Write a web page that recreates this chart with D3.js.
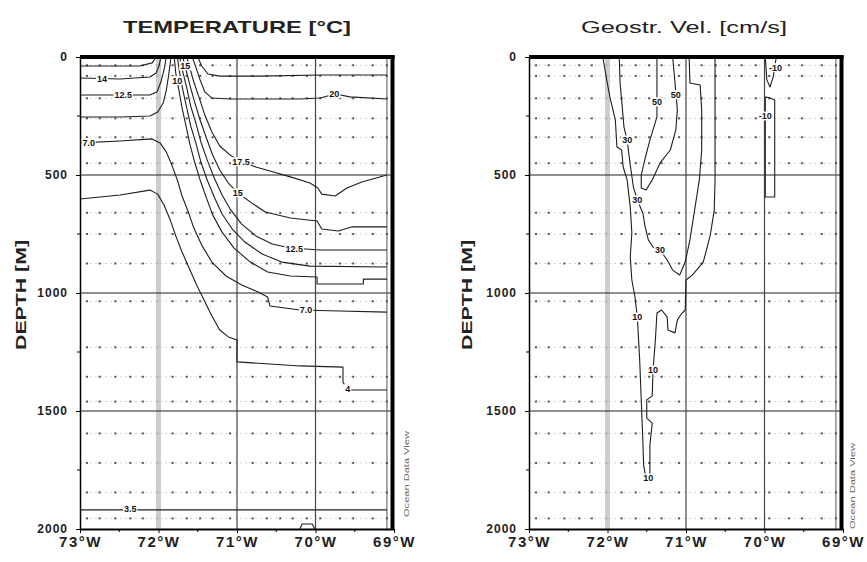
<!DOCTYPE html>
<html><head><meta charset="utf-8">
<script src="https://cdn.jsdelivr.net/npm/d3@7"></script>
<style>
html,body{margin:0;padding:0;background:#fff;}
svg{display:block;font-family:"Liberation Sans",Arial,sans-serif;}
</style></head><body>
<svg id="chart" width="867" height="562"></svg>
<script>
// ---------- axes ----------
const LON_TICKS = [-73, -72, -71, -70, -69];
const LON_MINOR = [-72.5, -71.5, -70.5, -69.5];
const DEPTH_TICKS = [0, 500, 1000, 1500, 2000];
const DEPTH_MINOR = [250, 750, 1250, 1750];
const GRID_DEPTHS = [500, 1000, 1500];
const GRID_LONS = [-71, -70];
const SECTION_LON = -72;
const DATA_EDGE_LON = -69.09;

// ---------- sample positions (stations x bottle depths) ----------
const STATION_LONS = [-72.91, -72.75, -72.55, -72.36, -72.20, -72.01, -71.82, -71.64, -71.47, -71.31,
  -71.09, -70.80, -70.62, -70.45, -70.29, -70.11, -69.94, -69.69, -69.52, -69.27, -69.09];
const SAMPLE_DEPTHS = [35, 80, 175, 260, 340, 450, 660, 750, 875, 1035, 1230, 1355, 1460, 1595, 1720, 1845, 1955];

// ---------- temperature isotherms [lon, depth m] ----------
const T_15_W = [[-73.00, 38], [-72.24, 38], [-72.08, 25], [-72.03, 0]];
const T_14_W = [[-73.00, 89], [-72.49, 93], [-72.11, 85], [-72.03, 68], [-71.99, 34], [-71.97, 0]];
const T_125_W = [[-73.00, 161], [-72.11, 161], [-72.02, 148], [-71.97, 106], [-71.93, 55], [-71.90, 0]];
const T_11_W = [[-73.00, 254], [-72.49, 254], [-72.11, 250], [-72.01, 233], [-71.94, 195], [-71.90, 140], [-71.87, 76], [-71.84, 0]];
const T_7 = [[-73.00, 364], [-72.49, 356], [-72.08, 347], [-71.98, 364], [-71.90, 403], [-71.83, 458], [-71.76, 521],
  [-71.70, 589], [-71.62, 657], [-71.55, 725], [-71.45, 797], [-71.32, 869], [-71.14, 928], [-70.94, 966],
  [-70.73, 996], [-70.61, 1017], [-70.58, 1055], [-70.20, 1072], [-69.69, 1076], [-69.09, 1081]];
const T_4 = [[-73.00, 602], [-72.49, 585], [-72.11, 564], [-72.01, 581], [-71.93, 627], [-71.85, 691], [-71.78, 758],
  [-71.70, 826], [-71.61, 894], [-71.52, 962], [-71.42, 1030], [-71.32, 1097], [-71.22, 1157], [-71.11, 1186],
  [-71.00, 1199], [-71.00, 1292], [-70.58, 1301], [-70.20, 1309], [-69.65, 1314], [-69.65, 1377], [-69.59, 1411], [-69.09, 1411]];
const T_10_E = [[-71.80, 0], [-71.78, 68], [-71.74, 140], [-71.70, 216], [-71.65, 292], [-71.60, 369], [-71.54, 445],
  [-71.47, 521], [-71.39, 597], [-71.31, 669], [-71.19, 742], [-71.04, 809], [-70.83, 869], [-70.61, 911],
  [-70.32, 928], [-69.98, 932], [-69.98, 962], [-69.39, 962], [-69.39, 941], [-69.09, 941]];
const T_11_E = [[-71.76, 0], [-71.73, 68], [-71.69, 140], [-71.64, 216], [-71.59, 292], [-71.52, 369], [-71.46, 445],
  [-71.38, 521], [-71.29, 593], [-71.19, 665], [-71.06, 729], [-70.90, 784], [-70.68, 835], [-70.43, 869],
  [-70.07, 886], [-69.09, 890]];
const T_125_E = [[-71.73, 0], [-71.69, 64], [-71.64, 131], [-71.59, 208], [-71.52, 284], [-71.46, 360], [-71.38, 436],
  [-71.29, 513], [-71.19, 585], [-71.08, 648], [-70.94, 708], [-70.76, 758], [-70.55, 792], [-70.32, 809],
  [-69.94, 818], [-69.09, 818]];
const T_15_E = [[-71.69, 0], [-71.65, 55], [-71.60, 119], [-71.54, 191], [-71.47, 267], [-71.39, 343], [-71.31, 415],
  [-71.22, 479], [-71.11, 534], [-70.99, 576], [-70.81, 619], [-70.64, 657], [-70.32, 682], [-69.98, 695],
  [-69.92, 729], [-69.71, 737], [-69.54, 720], [-69.09, 720]];
const T_175_E = [[-71.64, 0], [-71.60, 47], [-71.55, 106], [-71.48, 174], [-71.41, 246], [-71.32, 318], [-71.22, 377],
  [-71.09, 415], [-70.94, 445], [-70.76, 466], [-70.58, 483], [-70.32, 508], [-70.07, 534], [-69.97, 555],
  [-69.92, 581], [-69.75, 589], [-69.60, 555], [-69.41, 530], [-69.09, 500]];
const T_20_E = [[-71.57, 0], [-71.52, 47], [-71.47, 97], [-71.41, 148], [-71.32, 174], [-71.09, 178], [-70.20, 178],
  [-69.94, 174], [-69.75, 157], [-69.56, 169], [-69.09, 178]];
const T_225_E = [[-71.50, 0], [-71.45, 38], [-71.37, 72], [-71.22, 81], [-70.71, 81], [-69.94, 76], [-69.09, 76]];
const T_35 = [[-73.00, 1919], [-72.00, 1919], [-71.00, 1919], [-70.00, 1919], [-69.09, 1919]];
const T_35_BUMP = [[-70.20, 2000], [-70.17, 1979], [-70.04, 1979], [-70.01, 2000]];

const TEMP_LINES = [T_15_W, T_14_W, T_125_W, T_11_W, T_7, T_4, T_10_E, T_11_E, T_125_E,
  T_15_E, T_175_E, T_20_E, T_225_E, T_35, T_35_BUMP];
const TEMP_LABELS = [["14", -72.72, 91], ["12.5", -72.45, 161], ["7.0", -72.89, 362], ["15", -71.66, 38],
  ["10", -71.76, 100], ["20", -69.76, 156], ["17.5", -70.95, 444], ["15", -70.99, 576], ["12.5", -70.27, 811],
  ["7.0", -70.12, 1073], ["4", -69.59, 1405], ["3.5", -72.36, 1915]];

// ---------- geostrophic velocity isotachs [lon, depth m] ----------
const V_10 = [[-72.06, 0], [-72.01, 97], [-71.97, 169], [-71.90, 267], [-71.88, 381], [-71.82, 394], [-71.80, 466],
  [-71.75, 521], [-71.71, 636], [-71.69, 746], [-71.71, 847], [-71.69, 945], [-71.65, 1017], [-71.62, 1102],
  [-71.59, 1284], [-71.57, 1453], [-71.55, 1623], [-71.54, 1729], [-71.51, 1784], [-71.46, 1784], [-71.46, 1644],
  [-71.43, 1551], [-71.50, 1530], [-71.50, 1453], [-71.43, 1436], [-71.42, 1326], [-71.39, 1199], [-71.37, 1085],
  [-71.31, 1072], [-71.24, 1102], [-71.23, 1157], [-71.14, 1169], [-71.11, 1114], [-71.05, 1085], [-71.01, 1072],
  [-71.00, 945], [-70.92, 924], [-70.78, 869], [-70.69, 754], [-70.64, 648], [-70.63, 521], [-70.63, 267], [-70.63, 0]];
const V_30 = [[-71.85, 0], [-71.84, 110], [-71.82, 182], [-71.79, 297], [-71.75, 352], [-71.71, 458], [-71.67, 551],
  [-71.62, 606], [-71.55, 661], [-71.52, 720], [-71.48, 775], [-71.42, 805], [-71.33, 818], [-71.24, 860],
  [-71.17, 903], [-71.08, 924], [-71.01, 869], [-70.95, 775], [-70.89, 648], [-70.83, 521], [-70.80, 394],
  [-70.80, 225], [-70.82, 119], [-70.95, 110], [-70.96, 0]];
const V_50 = [[-71.37, 0], [-71.37, 140], [-71.37, 254], [-71.46, 352], [-71.52, 428], [-71.57, 500], [-71.57, 555],
  [-71.51, 564], [-71.43, 521], [-71.33, 449], [-71.20, 394], [-71.13, 309], [-71.11, 225], [-71.14, 110], [-71.17, 0]];
const V_NEG_TOP = [[-69.99, 0], [-69.97, 97], [-69.93, 127], [-69.89, 85], [-69.85, 0]];
const V_NEG_CELL = [[-69.99, 169], [-69.99, 593], [-69.87, 593], [-69.87, 182], [-69.93, 174], [-69.99, 169]];

const VEL_LINES = [V_10, V_30, V_50, V_NEG_TOP, V_NEG_CELL];
const VEL_LABELS = [["50", -71.37, 190], ["50", -71.13, 160], ["30", -71.75, 352], ["30", -71.62, 606],
  ["30", -71.33, 818], ["10", -71.62, 1102], ["10", -71.42, 1326], ["10", -71.48, 1784],
  ["-10", -69.86, 45], ["-10", -69.99, 250]];

// ---------- layout ----------
const TOP = 57, BOTTOM = 529;
const PANELS = [
  { id: "temp", x0: 80, x1: 394, title: "TEMPERATURE [°C]", titleX: 237, titleLen: 228, titleWeight: "bold",
    titleSize: 17, yLabelX: 21, odvX: 406, odvY: 474, lines: TEMP_LINES, labels: TEMP_LABELS },
  { id: "vel", x0: 529, x1: 843, title: "Geostr. Vel. [cm/s]", titleX: 684, titleLen: 206, titleWeight: "normal",
    titleSize: 17, yLabelX: 467, odvX: 852, odvY: 486, lines: VEL_LINES, labels: VEL_LABELS }
];

const svg = d3.select("#chart");

function drawPanel(p) {
  const x = d3.scaleLinear().domain([-73, -69]).range([p.x0, p.x1]);
  const y = d3.scaleLinear().domain([0, 2000]).range([TOP, BOTTOM]);
  const g = svg.append("g");

  const clipId = "clip-" + p.id;
  svg.append("defs").append("clipPath").attr("id", clipId).append("rect")
    .attr("x", p.x0).attr("y", TOP).attr("width", p.x1 - p.x0).attr("height", BOTTOM - TOP);
  const plot = g.append("g").attr("clip-path", `url(#${clipId})`);

  // faint rows through the bottle depths
  plot.selectAll("line.row").data(SAMPLE_DEPTHS).join("line").attr("class", "row")
    .attr("x1", x(-73)).attr("x2", x(DATA_EDGE_LON))
    .attr("y1", d => y(d)).attr("y2", d => y(d))
    .attr("stroke", "#d2d2d2").attr("stroke-width", 1).attr("stroke-dasharray", "2,3");

  // sample dots
  plot.selectAll("rect.dot").data(d3.cross(STATION_LONS, SAMPLE_DEPTHS)).join("rect").attr("class", "dot")
    .attr("x", d => x(d[0]) - 1).attr("y", d => y(d[1]) - 1)
    .attr("width", 2).attr("height", 2).attr("fill", "#555");

  // highlighted station longitude
  plot.append("rect").attr("x", x(SECTION_LON) - 2.5).attr("y", TOP)
    .attr("width", 5).attr("height", BOTTOM - TOP).attr("fill", "#c4c4c4").attr("opacity", 0.85);

  // grid
  plot.selectAll("line.hgrid").data(GRID_DEPTHS).join("line").attr("class", "hgrid")
    .attr("x1", p.x0).attr("x2", p.x1).attr("y1", d => y(d)).attr("y2", d => y(d))
    .attr("stroke", "#222").attr("stroke-width", 1.2);
  plot.selectAll("line.vgrid").data(GRID_LONS).join("line").attr("class", "vgrid")
    .attr("x1", d => x(d)).attr("x2", d => x(d)).attr("y1", TOP).attr("y2", BOTTOM)
    .attr("stroke", "#444").attr("stroke-width", 1.2);
  plot.append("line").attr("x1", x(DATA_EDGE_LON)).attr("x2", x(DATA_EDGE_LON))
    .attr("y1", TOP).attr("y2", BOTTOM).attr("stroke", "#555").attr("stroke-width", 1);

  // contour lines
  const line = d3.line().x(d => x(d[0])).y(d => y(d[1]));
  plot.selectAll("path.iso").data(p.lines).join("path").attr("class", "iso")
    .attr("d", line).attr("fill", "none").attr("stroke", "#1e1e1e").attr("stroke-width", 1.1)
    .attr("stroke-linejoin", "round");

  // contour labels
  const lab = plot.selectAll("g.lab").data(p.labels).join("g").attr("class", "lab")
    .attr("transform", d => `translate(${x(d[1])},${y(d[2])})`);
  lab.append("text").text(d => d[0])
    .attr("text-anchor", "middle").attr("dy", "0.35em")
    .attr("font-size", 9).attr("font-weight", "bold").attr("fill", "#111");
  lab.each(function () {
    const t = d3.select(this).select("text");
    const w = t.node().getComputedTextLength();
    d3.select(this).insert("rect", "text").attr("x", -w / 2 - 1).attr("y", -4.5)
      .attr("width", w + 2).attr("height", 9).attr("fill", "#fff");
  });

  // axes
  const yAxis = d3.axisLeft(y).tickValues(DEPTH_TICKS).tickSize(4).tickSizeOuter(0).tickPadding(8)
    .tickFormat(d3.format("d"));
  const ya = g.append("g").attr("transform", `translate(${p.x0},0)`).call(yAxis);
  ya.select(".domain").attr("stroke", "#000").attr("stroke-width", 1.5);
  ya.selectAll(".tick line").attr("stroke", "#000");
  ya.selectAll(".tick text").attr("font-size", 12).attr("font-weight", "bold")
    .attr("font-family", "Liberation Sans, Arial, sans-serif").attr("fill", "#222").attr("letter-spacing", 1);
  g.selectAll("line.yminor").data(DEPTH_MINOR).join("line").attr("class", "yminor")
    .attr("x1", p.x0 - 3).attr("x2", p.x0).attr("y1", d => y(d)).attr("y2", d => y(d)).attr("stroke", "#000");

  const xAxis = d3.axisBottom(x).tickValues(LON_TICKS).tickSize(4).tickSizeOuter(0).tickPadding(3)
    .tickFormat(d => Math.abs(d) + "°W");
  const xa = g.append("g").attr("transform", `translate(0,${BOTTOM})`).call(xAxis);
  xa.select(".domain").attr("stroke", "#000").attr("stroke-width", 2);
  xa.selectAll(".tick line").attr("stroke", "#000");
  xa.selectAll(".tick text").attr("font-size", 15).attr("font-weight", "bold")
    .attr("font-family", "Liberation Sans, Arial, sans-serif").attr("fill", "#222").attr("letter-spacing", 1.5);
  g.selectAll("line.xminor").data(LON_MINOR).join("line").attr("class", "xminor")
    .attr("x1", d => x(d)).attr("x2", d => x(d)).attr("y1", BOTTOM).attr("y2", BOTTOM + 3).attr("stroke", "#000");

  // heavy frame on top and right
  g.append("line").attr("x1", p.x0).attr("x2", p.x1 + 0.5).attr("y1", TOP).attr("y2", TOP)
    .attr("stroke", "#000").attr("stroke-width", 4);
  g.append("line").attr("x1", p.x1 - 1.5).attr("x2", p.x1 - 1.5).attr("y1", TOP - 2).attr("y2", BOTTOM + 1)
    .attr("stroke", "#000").attr("stroke-width", 4);

  // titles
  g.append("text").attr("x", p.titleX).attr("y", 33).attr("text-anchor", "middle")
    .attr("font-size", p.titleSize).attr("font-weight", p.titleWeight).attr("fill", "#222")
    .attr("textLength", p.titleLen).attr("lengthAdjust", "spacingAndGlyphs").text(p.title);
  g.append("text").attr("transform", `translate(${p.yLabelX + 5},295) rotate(-90)`)
    .attr("text-anchor", "middle").attr("font-size", 15).attr("font-weight", "bold").attr("fill", "#222")
    .attr("textLength", 110).attr("lengthAdjust", "spacingAndGlyphs").text("DEPTH [M]");
  g.append("text").attr("transform", `translate(${p.odvX + 2.5},${p.odvY}) rotate(-90)`)
    .attr("text-anchor", "middle").attr("font-size", 7).attr("fill", "#666")
    .attr("textLength", 86).attr("lengthAdjust", "spacingAndGlyphs").text("Ocean Data View");
}

PANELS.forEach(drawPanel);
</script>
</body></html>
